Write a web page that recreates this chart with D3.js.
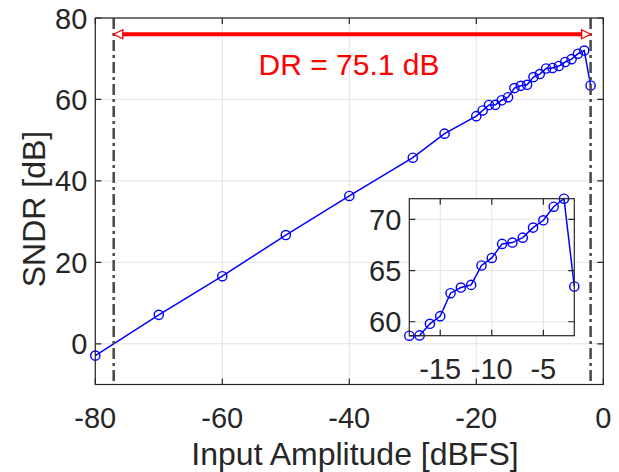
<!DOCTYPE html>
<html>
<head>
<meta charset="utf-8">
<script src="https://cdn.jsdelivr.net/npm/d3@7"></script>
<style>
  body { margin: 0; background: #fff; }
  text { font-family: "Liberation Sans", Arial, sans-serif; fill: #262626; }
</style>
</head>
<body>
<div id="container"></div>
<script>
var w = 619,
  h = 472;

// measured points
var inputDbfs = [-80, -70, -60, -50, -40, -30, -25, -20, -19, -18, -17, -16, -15, -14, -13, -12, -11, -10, -9, -8, -7, -6, -5, -4, -3, -2];
var sndrDb = [-2.9, 7.1, 16.6, 26.7, 36.3, 45.7, 51.6, 55.9, 57.3, 58.64, 58.67, 59.8, 60.55, 62.79, 63.34, 63.6, 65.49, 66.23, 67.6, 67.73, 68.21, 69.19, 69.9, 71.23, 72.01, 63.44];

var xTicks = [-80, -60, -40, -20, 0];
var yTicks = [0, 20, 40, 60, 80];
var insetXTicks = [-15, -10, -5];
var insetYTicks = [60, 65, 70];

var drLow = -77.1,
  drHigh = -2,
  drLevel = 76,
  drLabel = "DR = 75.1 dB";

var points = inputDbfs.map(function (d, i) { return { x: d, y: sndrDb[i] }; });
var insetPoints = points.filter(function (d) { return d.x >= -18; });

var svg = d3.select("#container").append("svg")
  .attr("width", w)
  .attr("height", h);

var axisColor = "#262626",
  gridColor = "#e3e3e3",
  blue = "#0000ff";

// ---- main axes ----
var m = { left: 95.3, right: 603.3, top: 18, bottom: 384.5 };

var x = d3.scaleLinear().domain([-80, 0]).range([m.left, m.right]);
var y = d3.scaleLinear().domain([-10, 80]).range([m.bottom, m.top]);

var main = svg.append("g");

main.append("g").selectAll("line.gx")
  .data(xTicks).enter().append("line")
  .attr("x1", d => x(d)).attr("x2", d => x(d))
  .attr("y1", m.top).attr("y2", m.bottom)
  .attr("stroke", gridColor).attr("stroke-width", 1);

main.append("g").selectAll("line.gy")
  .data(yTicks).enter().append("line")
  .attr("x1", m.left).attr("x2", m.right)
  .attr("y1", d => y(d)).attr("y2", d => y(d))
  .attr("stroke", gridColor).attr("stroke-width", 1);

var line = d3.line().x(d => x(d.x)).y(d => y(d.y));

main.append("path")
  .datum(points)
  .attr("d", line)
  .attr("fill", "none")
  .attr("stroke", blue)
  .attr("stroke-width", 1.5);

main.append("g").selectAll("circle")
  .data(points).enter().append("circle")
  .attr("cx", d => x(d.x))
  .attr("cy", d => y(d.y))
  .attr("r", 4.6)
  .attr("fill", "none")
  .attr("stroke", blue)
  .attr("stroke-width", 1.4);

// dynamic range markers
main.append("g").selectAll("line.dr")
  .data([drLow, drHigh]).enter().append("line")
  .attr("x1", d => x(d)).attr("x2", d => x(d))
  .attr("y1", m.top).attr("y2", m.bottom)
  .attr("stroke", "#4d4d4d")
  .attr("stroke-width", 2.6)
  .attr("stroke-dasharray", "11,4,3,4");

var headLen = 9, headHalf = 4.5;
main.append("line")
  .attr("x1", x(drLow) + headLen).attr("x2", x(drHigh) - headLen)
  .attr("y1", y(drLevel)).attr("y2", y(drLevel))
  .attr("stroke", "#ff0000")
  .attr("stroke-width", 4);

main.append("g").selectAll("path.head")
  .data([[drLow, 1], [drHigh, -1]]).enter().append("path")
  .attr("d", function (d) {
    var tx = x(d[0]), ty = y(drLevel), s = d[1];
    return "M" + tx + "," + ty +
      "L" + (tx + s * headLen) + "," + (ty - headHalf) +
      "L" + (tx + s * headLen) + "," + (ty + headHalf) + "Z";
  })
  .attr("fill", "#fff")
  .attr("stroke", "#ff0000")
  .attr("stroke-width", 1.3);

main.append("text")
  .attr("x", 349)
  .attr("y", 74.5)
  .attr("text-anchor", "middle")
  .style("fill", "#ff0000")
  .style("font-size", "30px")
  .text(drLabel);

// box with mirrored inward ticks
function drawBox(g, xs, ys, xt, yt) {
  var x0 = xs.range()[0], x1 = xs.range()[1];
  var y0 = ys.range()[0], y1 = ys.range()[1];
  var tl = 6;
  g.append("rect")
    .attr("x", x0).attr("y", y1)
    .attr("width", x1 - x0).attr("height", y0 - y1)
    .attr("fill", "none")
    .attr("stroke", axisColor)
    .attr("stroke-width", 1.2);
  g.append("g").selectAll("path")
    .data(xt).enter().append("path")
    .attr("d", d => "M" + xs(d) + "," + y0 + "v" + (-tl) + "M" + xs(d) + "," + y1 + "v" + tl)
    .attr("stroke", axisColor).attr("stroke-width", 1.2);
  g.append("g").selectAll("path")
    .data(yt).enter().append("path")
    .attr("d", d => "M" + x0 + "," + ys(d) + "h" + tl + "M" + x1 + "," + ys(d) + "h" + (-tl))
    .attr("stroke", axisColor).attr("stroke-width", 1.2);
  g.append("g").selectAll("text")
    .data(xt).enter().append("text")
    .attr("x", d => xs(d))
    .attr("y", y0 + 43)
    .attr("text-anchor", "middle")
    .style("font-size", "29px")
    .text(d => d);
  g.append("g").selectAll("text")
    .data(yt).enter().append("text")
    .attr("x", x0 - 8)
    .attr("y", d => ys(d) + 10.5)
    .attr("text-anchor", "end")
    .style("font-size", "29px")
    .text(d => d);
}

drawBox(main, x, y, xTicks, yTicks);

main.append("text")
  .attr("x", 355)
  .attr("y", 465)
  .attr("text-anchor", "middle")
  .style("font-size", "32px")
  .text("Input Amplitude [dBFS]");

main.append("text")
  .attr("transform", "translate(45,209) rotate(-90)")
  .attr("text-anchor", "middle")
  .style("font-size", "32px")
  .text("SNDR [dB]");

// ---- inset ----
var ins = { left: 409.3, right: 574.3, top: 198.7, bottom: 335.7 };
var xi = d3.scaleLinear().domain(d3.extent(insetPoints, d => d.x)).range([ins.left, ins.right]);
var yi = d3.scaleLinear().domain(d3.extent(insetPoints, d => d.y)).range([ins.bottom, ins.top]);

var inset = svg.append("g");

inset.append("rect")
  .attr("x", ins.left).attr("y", ins.top)
  .attr("width", ins.right - ins.left).attr("height", ins.bottom - ins.top)
  .attr("fill", "#fff");

inset.append("g").selectAll("line")
  .data(insetXTicks).enter().append("line")
  .attr("x1", d => xi(d)).attr("x2", d => xi(d))
  .attr("y1", ins.top).attr("y2", ins.bottom)
  .attr("stroke", gridColor);

inset.append("g").selectAll("line")
  .data(insetYTicks).enter().append("line")
  .attr("x1", ins.left).attr("x2", ins.right)
  .attr("y1", d => yi(d)).attr("y2", d => yi(d))
  .attr("stroke", gridColor);

var lineI = d3.line().x(d => xi(d.x)).y(d => yi(d.y));

inset.append("path")
  .datum(insetPoints)
  .attr("d", lineI)
  .attr("fill", "none")
  .attr("stroke", blue)
  .attr("stroke-width", 1.5);

inset.append("g").selectAll("circle")
  .data(insetPoints).enter().append("circle")
  .attr("cx", d => xi(d.x))
  .attr("cy", d => yi(d.y))
  .attr("r", 4.6)
  .attr("fill", "none")
  .attr("stroke", blue)
  .attr("stroke-width", 1.4);

drawBox(inset, xi, yi, insetXTicks, insetYTicks);
</script>
</body>
</html>
